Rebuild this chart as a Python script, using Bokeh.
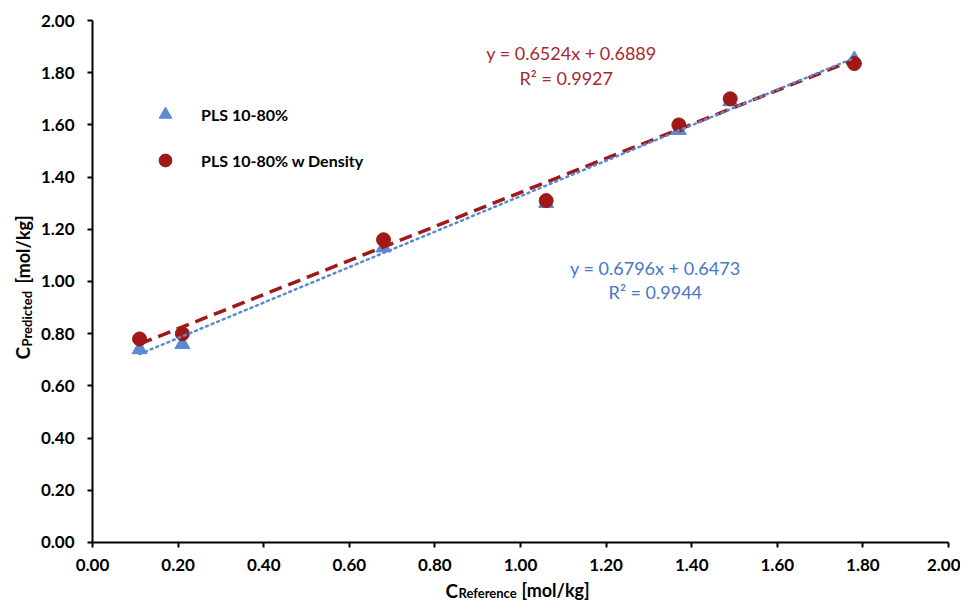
import numpy as np
from bokeh.plotting import figure
from bokeh.models import Range1d, Label, Legend, LegendItem, FixedTicker, ColumnDataSource
from bokeh.embed import file_html
from bokeh.resources import INLINE

# ---- data ----
x_reference = [0.11, 0.21, 0.68, 1.06, 1.37, 1.49, 1.78]
pls_pred = [0.74, 0.76, 1.13, 1.30, 1.58, 1.69, 1.85]
pls_density_pred = [0.78, 0.80, 1.16, 1.31, 1.60, 1.70, 1.835]
series_names = ["PLS 10-80%", "PLS 10-80% w Density"]
fit_pls = [0.6796, 0.6473]          # slope, intercept
fit_density = [0.6524, 0.6889]
r2_pls = 0.9944
r2_density = 0.9927
tick_values = [0.0, 0.2, 0.4, 0.6, 0.8, 1.0, 1.2, 1.4, 1.6, 1.8, 2.0]

FONT = "Lato"
BLUE = "#5B8AD0"
RED = "#A01818"
BLUE_TXT = "#4677C8"
RED_TXT = "#A52A2E"

W, H = 960, 603
# the frame spans the whole canvas; axes are fixed at 0 inside it
p = figure(width=W, height=H, output_backend="svg", toolbar_location=None,
           x_range=Range1d(-0.21495, 2.02804), y_range=Range1d(-0.23372, 2.07663),
           min_border=0, min_border_left=0, min_border_right=0,
           min_border_top=0, min_border_bottom=0)
p.outline_line_color = None
p.grid.visible = False
p.background_fill_color = "white"

for ax in (p.xaxis[0], p.yaxis[0]):
    ax.ticker = FixedTicker(ticks=tick_values)
    ax.fixed_location = 0
    ax.bounds = (0, 2)
    ax.axis_line_width = 2
    ax.axis_line_color = "black"
    ax.major_tick_line_width = 2
    ax.major_tick_line_color = "black"
    ax.major_tick_in = 0
    ax.major_tick_out = 5
    ax.minor_tick_line_color = None
    ax.major_label_text_font = FONT
    ax.major_label_text_font_style = "bold"
    ax.major_label_text_font_size = "17px"
    ax.major_label_text_color = "black"
    ax.major_label_overrides = {v: f"{v:.2f}" for v in tick_values}
p.xaxis[0].major_label_standoff = 12
p.yaxis[0].major_label_standoff = 13

# scatter series
src = ColumnDataSource(dict(x=x_reference, a=pls_pred, b=pls_density_pred))
r_tri = p.scatter("x", "a", source=src, marker="triangle", size=15,
                  fill_color=BLUE, line_color=BLUE)
r_cir = p.scatter("x", "b", source=src, marker="circle", size=14,
                  fill_color=RED, line_color=RED)

# trend lines from fitted coefficients over the data span
xs = np.array([min(x_reference), max(x_reference)])
p.line(xs, fit_density[0] * xs + fit_density[1], line_color=RED, line_width=3.5,
       line_dash="13 7")
p.line(xs, fit_pls[0] * xs + fit_pls[1], line_color=BLUE, line_width=2.5,
       line_dash="2 4", line_cap="round")

# equations
def eq_text(x, y, txt, color):
    p.add_layout(Label(x=x, y=y, text=txt, text_font=FONT, text_font_size="18px",
                       text_color=color, text_align="center", text_baseline="middle"))

eq_text(1.119, 1.877, f"y = {fit_density[0]:.4f}x + {fit_density[1]:.4f}", RED_TXT)
eq_text(1.107, 1.778, f"R² = {r2_density:.4f}", RED_TXT)
eq_text(1.315, 1.050, f"y = {fit_pls[0]:.4f}x + {fit_pls[1]:.4f}", BLUE_TXT)
eq_text(1.315, 0.958, f"R² = {r2_pls:.4f}", BLUE_TXT)

# legend
legend = Legend(items=[LegendItem(label=series_names[0], renderers=[r_tri]),
                       LegendItem(label=series_names[1], renderers=[r_cir])],
                location=(149, 427), orientation="vertical",
                border_line_color=None, background_fill_alpha=0,
                padding=0, margin=0, spacing=14,
                glyph_width=32, glyph_height=32, label_height=32,
                label_standoff=20,
                label_text_font=FONT, label_text_font_style="bold",
                label_text_font_size="16px", label_text_color="black")
p.add_layout(legend, "center")

# axis titles (with subscripts)
def lab(x, y, txt, size, angle=0.0):
    p.add_layout(Label(x=x, y=y, text=txt, angle=angle,
                       text_font=FONT, text_font_style="bold", text_font_size=size,
                       text_color="black", text_align="left", text_baseline="alphabetic"))

lab(0.8248, -0.1839, "C", "19px")
lab(0.8551, -0.1954, "Reference", "13px")
lab(1.0023, -0.1839, "[mol/kg]", "18px")

lab(-0.1635, 0.7011, "C", "19px", np.pi / 2)
lab(-0.1542, 0.7510, "Predicted", "13px", np.pi / 2)
lab(-0.1635, 0.9923, "[mol/kg]", "18px", np.pi / 2)

open("out.html", "w").write(file_html(p, INLINE))
